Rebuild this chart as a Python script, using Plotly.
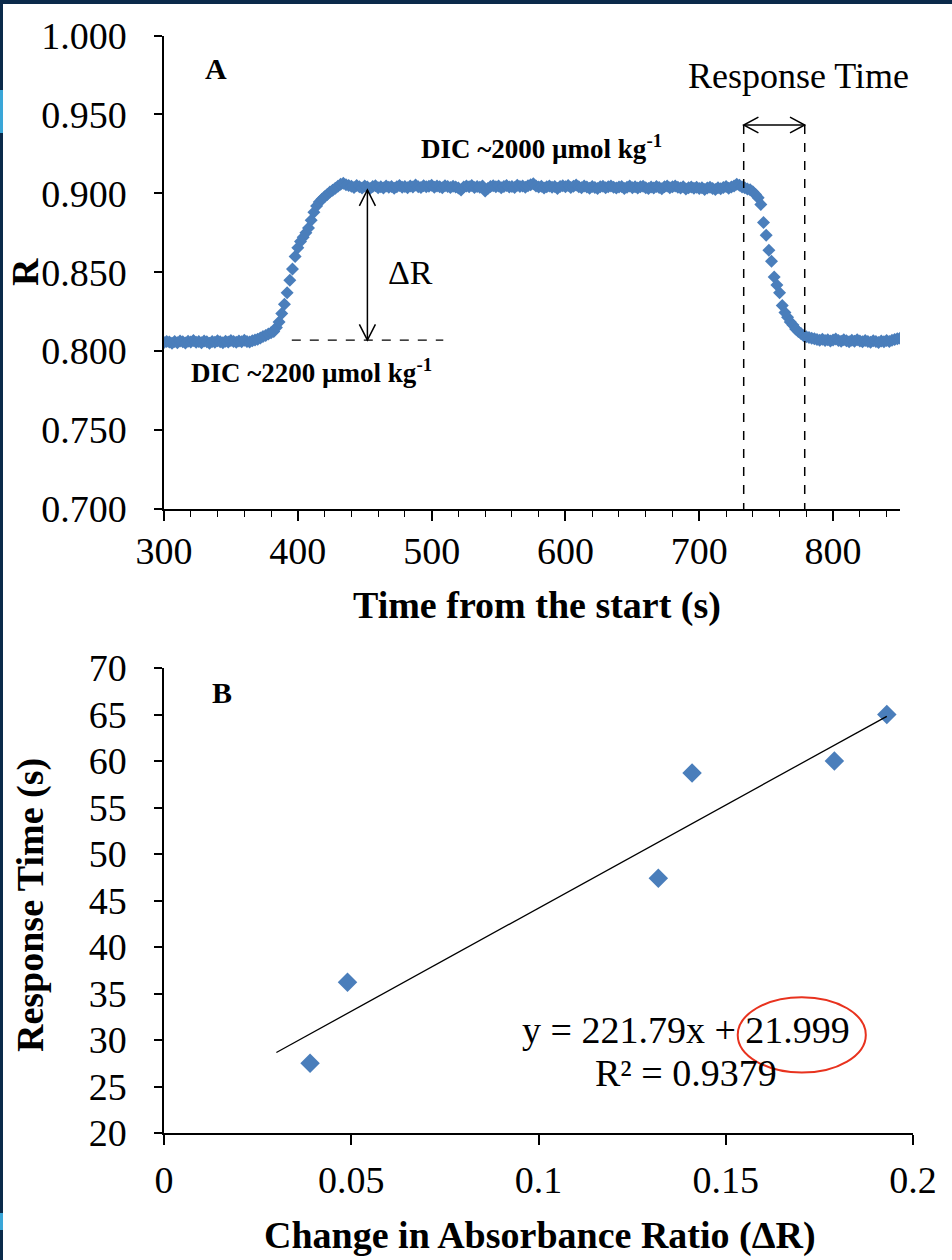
import plotly.graph_objects as go

# ---------------- data ----------------
# Panel A: absorbance ratio R sampled every 2 s from 300 s to 850 s
time_s = list(range(300, 851, 2))
ratio_R = [
    # 300-374 baseline (DIC ~2200)
    .8055, .8062, .8058, .8050, .8061, .8054, .8065, .8059, .8052, .8063,
    .8058, .8068, .8056, .8061, .8053, .8064, .8059, .8050, .8062, .8057,
    .8066, .8060, .8054, .8063, .8058, .8067, .8061, .8056, .8065, .8060,
    .8069, .8062, .8058, .8066, .8071, .8076, .8084, .8093,
    # 376-438 rise
    .8100, .8108, .8116, .8124, .8150, .8185, .8238, .8298, .8370, .8450,
    .8520, .8600, .8655, .8695, .8722, .8750, .8780, .8830, .8880, .8920,
    .8945, .8962, .8978, .8992, .9008, .9020, .9032, .9045, .9058, .9064,
    .9055, .9050,
    # 440-730 plateau (DIC ~2000)
    .9045, .9037, .9049, .9042, .9034, .9046, .9040, .9031, .9043, .9048,
    .9036, .9042, .9034, .9047, .9039, .9044, .9032, .9041, .9050, .9038,
    .9043, .9035, .9046, .9040, .9053, .9042, .9037, .9048, .9041, .9045,
    .9051, .9039, .9046, .9042, .9035, .9048, .9043, .9037, .9045, .9040,
    .9033, .9021, .9040, .9046, .9042, .9049, .9037, .9044, .9039, .9047,
    .9015, .9030, .9043, .9048, .9041, .9046, .9035, .9043, .9049, .9040,
    .9044, .9037, .9051, .9043, .9046, .9039, .9048, .9055, .9061, .9047,
    .9040, .9045, .9034, .9042, .9047, .9038, .9044, .9031, .9043, .9048,
    .9041, .9050, .9037, .9045, .9053, .9042, .9035, .9046, .9040, .9032,
    .9043, .9037, .9030, .9041, .9045, .9035, .9042, .9047, .9038, .9033,
    .9040, .9044, .9031, .9039, .9046, .9035, .9042, .9034, .9041, .9045,
    .9036, .9030, .9040, .9034, .9043, .9037, .9029, .9041, .9046, .9035,
    .9042, .9047, .9038, .9033, .9041, .9027, .9035, .9040, .9032, .9038,
    .9030, .9036, .9025, .9033, .9039, .9031, .9024, .9035, .9029, .9037,
    .9043, .9032, .9040, .9047, .9058, .9052,
    # 732-784 fall
    .9040, .9035, .9028, .9022, .9010, .8993, .8972, .8930, .8815, .8735,
    .8640, .8570, .8470, .8420, .8370, .8290, .8245, .8215, .8185, .8165,
    .8140, .8125, .8112, .8098, .8092, .8087, .8082,
    # 786-850 baseline
    .8078, .8074, .8069, .8076, .8067, .8073, .8064, .8071, .8077, .8068,
    .8063, .8072, .8066, .8060, .8069, .8063, .8072, .8065, .8059, .8068,
    .8062, .8057, .8066, .8061, .8055, .8064, .8059, .8067, .8062, .8069,
    .8074, .8078, .8082,
]

# Panel B: response time vs change in absorbance ratio
delta_R = [0.039, 0.049, 0.132, 0.141, 0.179, 0.193]
response_time = [27.5, 36.2, 47.4, 58.7, 60.0, 65.0]
fit_slope = 221.79
fit_intercept = 21.999
fit_x = [0.030, 0.193]

xA_ticks = [300, 400, 500, 600, 700, 800]
yA_ticks = [0.700, 0.750, 0.800, 0.850, 0.900, 0.950, 1.000]
xB_ticks = [0, 0.05, 0.1, 0.15, 0.2]
xB_ticktext = ["0", "0.05", "0.1", "0.15", "0.2"]
yB_ticks = list(range(20, 71, 5))

# ---------------- layout helpers ----------------
W, H = 952, 1260
def px(x):
    return x / W
def py(y):
    return 1 - y / H

FONT = "Liberation Serif"
BLUE = "#4a7ebb"

fig = go.Figure()
fig.add_trace(go.Scatter(
    x=time_s, y=ratio_R, mode="markers",
    marker=dict(symbol="diamond", size=10, color=BLUE, line=dict(width=0)),
    xaxis="x", yaxis="y", showlegend=False, hoverinfo="x+y"))

fig.add_trace(go.Scatter(
    x=delta_R, y=response_time, mode="markers",
    marker=dict(symbol="diamond", size=15, color=BLUE, line=dict(width=0)),
    xaxis="x2", yaxis="y2", showlegend=False))

fit_y = [fit_slope * v + fit_intercept for v in fit_x]
fig.add_trace(go.Scatter(
    x=fit_x, y=fit_y, mode="lines", line=dict(color="black", width=1.3),
    xaxis="x2", yaxis="y2", showlegend=False, hoverinfo="skip"))

axis_common = dict(showline=True, linecolor="black", linewidth=1.5,
                   showgrid=False, zeroline=False, ticks="outside",
                   tickcolor="black", tickwidth=1.5,
                   tickfont=dict(family=FONT, size=38, color="black"),
                   automargin=False)

fig.update_layout(
    width=W, height=H,
    margin=dict(l=0, r=0, t=0, b=0),
    paper_bgcolor="white", plot_bgcolor="white",
    font=dict(family=FONT, color="black"),
    showlegend=False,
    xaxis=dict(domain=[px(164), px(900)], range=[300, 850], anchor="y",
               tickvals=xA_ticks, ticklen=10, ticklabelstandoff=-2,
               minor=dict(dtick=20, ticks="outside", ticklen=6,
                          tickcolor="black", tickwidth=1.2, showgrid=False),
               **axis_common),
    yaxis=dict(domain=[py(509), py(35.5)], range=[0.7, 1.0], anchor="x",
               tickvals=yA_ticks, tickformat=".3f", ticklen=8,
               ticklabelstandoff=20, **axis_common),
    xaxis2=dict(domain=[px(164), px(913)], range=[0, 0.2], anchor="y2",
                tickvals=xB_ticks, ticktext=xB_ticktext, ticklen=10,
                ticklabelstandoff=3, **axis_common),
    yaxis2=dict(domain=[py(1133), py(668)], range=[20, 70], anchor="x2",
                tickvals=yB_ticks, ticklen=8, ticklabelstandoff=20,
                **axis_common),
)

# ---------------- annotation geometry (panel A) ----------------
rt_left, rt_right, rt_arrow_R = 733.2, 778.8, 0.9433
dr_t, dr_top, dr_bot = 452.0, 0.9021, 0.8070
base_t0, base_t1 = 395.5, 508.7

shapes = []
# dashed verticals for response time
for t in (rt_left, rt_right):
    shapes.append(dict(type="line", xref="x", yref="y", x0=t, x1=t,
                       y0=rt_arrow_R, y1=0.700,
                       line=dict(color="black", width=1.5, dash="dash")))
# dashed baseline
shapes.append(dict(type="line", xref="x", yref="y", x0=base_t0, x1=base_t1,
                   y0=dr_bot, y1=dr_bot,
                   line=dict(color="black", width=1.3, dash="dash")))
# horizontal double arrow
shapes.append(dict(type="line", xref="x", yref="y", x0=rt_left, x1=rt_right,
                   y0=rt_arrow_R, y1=rt_arrow_R, line=dict(color="black", width=1.5)))
hx, hy = 11.0, 0.0050
shapes.append(dict(type="path", xref="x", yref="y",
                   path=f"M {rt_left+hx},{rt_arrow_R+hy} L {rt_left},{rt_arrow_R} L {rt_left+hx},{rt_arrow_R-hy}",
                   line=dict(color="black", width=1.5)))
shapes.append(dict(type="path", xref="x", yref="y",
                   path=f"M {rt_right-hx},{rt_arrow_R+hy} L {rt_right},{rt_arrow_R} L {rt_right-hx},{rt_arrow_R-hy}",
                   line=dict(color="black", width=1.5)))
# vertical double arrow (delta R)
shapes.append(dict(type="line", xref="x", yref="y", x0=dr_t, x1=dr_t,
                   y0=dr_bot, y1=dr_top, line=dict(color="black", width=1.5)))
vx, vy = 6.0, 0.0100
shapes.append(dict(type="path", xref="x", yref="y",
                   path=f"M {dr_t-vx},{dr_top-vy} L {dr_t},{dr_top} L {dr_t+vx},{dr_top-vy}",
                   line=dict(color="black", width=1.5)))
shapes.append(dict(type="path", xref="x", yref="y",
                   path=f"M {dr_t-vx},{dr_bot+vy} L {dr_t},{dr_bot} L {dr_t+vx},{dr_bot+vy}",
                   line=dict(color="black", width=1.5)))
# red ellipse around intercept (panel B)
shapes.append(dict(type="circle", xref="x2", yref="y2", x0=0.1532, x1=0.1874,
                   y0=26.5, y1=34.6, line=dict(color="#e8321e", width=2)))
# page border strips
shapes.append(dict(type="rect", xref="paper", yref="paper", x0=0, x1=1,
                   y0=py(4), y1=1, fillcolor="#0b2a4a", line=dict(width=0), layer="above"))
shapes.append(dict(type="rect", xref="paper", yref="paper", x0=0, x1=px(3),
                   y0=0, y1=1, fillcolor="#0b2a4a", line=dict(width=0), layer="above"))
shapes.append(dict(type="rect", xref="paper", yref="paper", x0=0, x1=px(3),
                   y0=py(133), y1=py(90), fillcolor="#3aa6d8", line=dict(width=0), layer="above"))
shapes.append(dict(type="rect", xref="paper", yref="paper", x0=0, x1=px(3),
                   y0=py(1230), y1=py(1213), fillcolor="#3aa6d8", line=dict(width=0), layer="above"))
fig.update_layout(shapes=shapes)

ann = []
def add_text(text, x, y, size, bold=False, xref="paper", yref="paper", angle=0):
    ann.append(dict(text=f"<b>{text}</b>" if bold else text, x=x, y=y,
                    xref=xref, yref=yref, showarrow=False, textangle=angle,
                    xanchor="center", yanchor="middle",
                    font=dict(family=FONT, size=size, color="black")))

# Panel A texts
add_text("A", px(216), py(68), 30, bold=True)
add_text("Response Time", px(798), py(76), 36)
add_text("DIC ~2000 µmol kg<sup>-1</sup>", px(541), py(147), 27, bold=True)
add_text("DIC ~2200 µmol kg<sup>-1</sup>", px(311), py(371), 27, bold=True)
add_text("ΔR", px(410), py(272), 34)
add_text("R", px(25), py(272), 38, bold=True, angle=-90)
add_text("Time from the start (s)", px(537), py(605), 38, bold=True)
# Panel B texts
add_text("B", px(222), py(692), 30, bold=True)
add_text("y = 221.79x + 21.999", px(686), py(1030), 38)
add_text("R² = 0.9379", px(686), py(1073), 38)
add_text("Response Time (s)", px(30), py(905), 38, bold=True, angle=-90)
add_text("Change in Absorbance Ratio (ΔR)", px(540), py(1235), 38, bold=True)
fig.update_layout(annotations=ann)

fig.write_html("out.html", config={"displayModeBar": False},
               post_script="document.body.style.margin='0';document.body.style.overflow='hidden';")
